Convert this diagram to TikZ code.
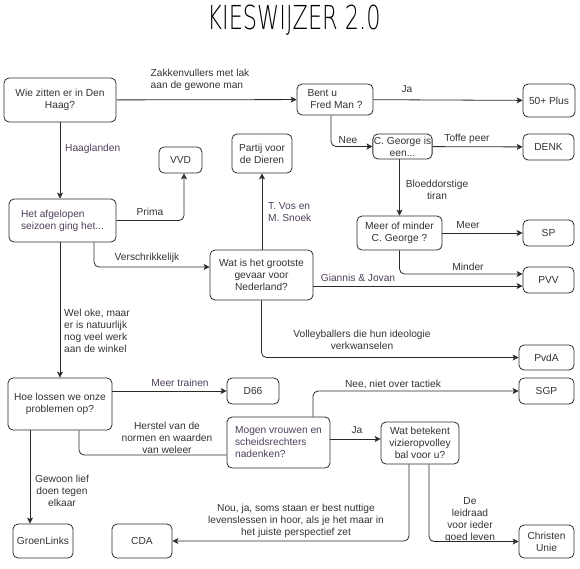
\documentclass[tikz,border=0pt]{standalone}
\usepackage{fontspec}
\setmainfont{Liberation Sans}
\IfFontExistsTF{DejaVu Sans ExtraLight}
  {\newfontfamily\titlefont{DejaVu Sans ExtraLight}}
  {\IfFontExistsTF{Fira Sans Light}
    {\newfontfamily\titlefont{Fira Sans Light}}
    {\newfontfamily\titlefont{Liberation Sans}}}
\usepackage{xcolor}
\definecolor{ink}{HTML}{333333}
\definecolor{purp}{HTML}{4F3F5C}
\definecolor{edge}{HTML}{2B2B2B}
\usetikzlibrary{arrows.meta,positioning}
\tikzset{
  >={Stealth[length=6pt,width=6pt,inset=1.5pt]},
  box/.style={draw=edge,rounded corners=5pt,line width=0.8pt,inner sep=2pt,align=center,fill=white,text=ink},
  sz/.style 2 args={minimum width=#1,minimum height=#2},
  lab/.style={text=ink,align=center,inner sep=1pt},
  arr/.style={->,draw=edge,line width=0.8pt,rounded corners=5pt},
  lin/.style={draw=edge,line width=0.8pt,rounded corners=5pt},
}

\begin{document}
\begin{tikzpicture}[x=1pt,y=-1pt,every node/.style={font=\fontsize{10.2}{12}\selectfont}]
\useasboundingbox (0,0) rectangle (580,568);
% title
\node[text=black] (title) at (294,20) {\scalebox{0.68}[1]{\titlefont\fontsize{33}{36}\selectfont KIESWIJZER 2.0}};

% questions
\node[box,sz={112pt}{44pt}] (wie) at (60,100) {Wie zitten er in Den\\Haag?};
\node[box,sz={76pt}{31pt},align=left] (bent) at (335,99.5) {Bent u\\\ Fred Man ?};
\node[box,sz={107pt}{43pt},align=left,text=purp] (afg) at (62.5,220.5) {Het afgelopen\\seizoen ging het...};
\node[box,sz={103pt}{50pt}] (wat) at (261.5,275) {Wat is het grootste\\gevaar voor\\Nederland?};
\node[box,sz={59pt}{25pt},inner sep=1pt] (cg) at (402.5,146.5) {C. George is\\een...};
\node[box,sz={85pt}{34pt}] (meer) at (399.5,233) {Meer of minder\\C. George ?};
\node[box,sz={104pt}{52pt}] (hoe) at (60,404) {Hoe lossen we onze\\problemen op?};
\node[box,sz={103pt}{51pt},align=left,text=purp] (mogen) at (278.5,442.5) {Mogen vrouwen en\\scheidsrechters\\nadenken?};
\node[box,sz={78pt}{42pt},inner sep=1pt] (vizier) at (420,443) {Wat betekent\\vizieropvolley\\bal voor u?};

% parties
\node[box,sz={52pt}{33pt}] (plus) at (549,100.5) {50+ Plus};
\node[box,sz={43pt}{26pt}] (vvd) at (180.5,160) {VVD};
\node[box,sz={60pt}{39pt}] (pvdd) at (262,153.5) {Partij voor\\de Dieren};
\node[box,sz={51pt}{26pt}] (denk) at (548.5,147) {DENK};
\node[box,sz={51pt}{26pt}] (sp) at (548.5,233) {SP};
\node[box,sz={51pt}{26pt}] (pvv) at (548.5,280) {PVV};
\node[box,sz={55pt}{25pt}] (pvda) at (546.5,357.5) {PvdA};
\node[box,sz={52pt}{26pt}] (d66) at (253,391) {D66};
\node[box,sz={55pt}{26pt}] (sgp) at (546.5,391) {SGP};
\node[box,sz={60pt}{34pt}] (groen) at (43,541) {GroenLinks};
\node[box,sz={60pt}{34pt}] (cda) at (142,541) {CDA};
\node[box,sz={55pt}{33pt}] (cu) at (546.5,541.5) {Christen\\Unie};

% connectors
\draw[arr] (wie) -- (bent);
\draw[arr] (bent) -- (plus);
\draw[arr] ([xshift=-4pt]bent.south) |- (cg.west);
\draw[arr] (cg) -- (denk);
\draw[arr] (meer.north |- cg.south) -- (meer.north);
\draw[arr] (meer) -- (sp);
\draw[arr] (meer.south) |- ([yshift=6pt]pvv.west);
\draw[arr] (wie) -- (wie |- afg.north);
\draw[arr] (afg.east) -| ([xshift=3.5pt]vvd.south);
\draw[arr] ([xshift=31.5pt]afg.south) |- ([yshift=8pt]wat.west);
\draw[arr] (hoe.north |- afg.south) -- (hoe.north);
\draw[arr] (pvdd.south |- wat.north) -- (pvdd.south);
\draw[arr] ([yshift=-11pt]wat.east) -- ([yshift=-6pt]pvv.west);
\draw[arr] (wat.south) |- (pvda.west);
\draw[arr] ([yshift=13pt]hoe.east) -- (d66.west);
\draw[arr] ([xshift=-30pt]hoe.south) -- ([xshift=-13pt]groen.north);
\draw[lin] ([xshift=19pt]hoe.south) |- ([yshift=-12.5pt]mogen.west);
\draw[arr] ([xshift=34.5pt]mogen.north) |- (sgp.west);
\draw[arr] ([yshift=3.5pt]mogen.east) -- ([yshift=4pt]vizier.west);
\draw[arr] ([xshift=-11pt]vizier.south) |- (cda.east);
\draw[arr] ([xshift=9pt]vizier.south) |- (cu.west);

% labels
\node[lab,align=left] (l1) at (200,80) {Zakkenvullers met lak\\aan de gewone man};
\node[lab] (l2) at (407,89) {Ja};
\node[lab,anchor=west,text=purp] (l3) at (64,149) {Haaglanden};
\node[lab] (l4) at (150,212) {Prima};
\node[lab] (l5) at (147,258) {Verschrikkelijk};
\node[lab,anchor=west,align=left,text=purp] (l6) at (267,212.5) {T. Vos en\\M. Snoek};
\node[lab] (l7) at (348,140) {Nee};
\node[lab] (l8) at (467,139) {Toffe peer};
\node[lab] (l9) at (437,189.5) {Bloeddorstige\\tiran};
\node[lab] (l10) at (468,225) {Meer};
\node[lab] (l11) at (468,267) {Minder};
\node[lab,text=purp] (l12) at (358,278) {Giannis \& Jovan};
\node[lab,anchor=west,align=left] (l13) at (63,331) {Wel oke, maar\\er is natuurlijk\\nog veel werk\\aan de winkel};
\node[lab] (l14) at (362,340) {Volleyballers die hun ideologie\\verkwanselen};
\node[lab,text=purp] (l15) at (180,383) {Meer trainen};
\node[lab] (l16) at (393,384) {Nee, niet over tactiek};
\node[lab] (l17) at (167,437.5) {Herstel van de\\normen en waarden\\van weleer};
\node[lab] (l18) at (357,430) {Ja};
\node[lab] (l19) at (62,490.5) {Gewoon lief\\doen tegen\\elkaar};
\node[lab] (l20) at (296,521) {Nou, ja, soms staan er best nuttige\\levenslessen in hoor, als je het maar in\\het juiste perspectief zet};
\node[lab] (l21) at (470,520) {De\\leidraad\\voor ieder\\goed leven};
\end{tikzpicture}
\end{document}
